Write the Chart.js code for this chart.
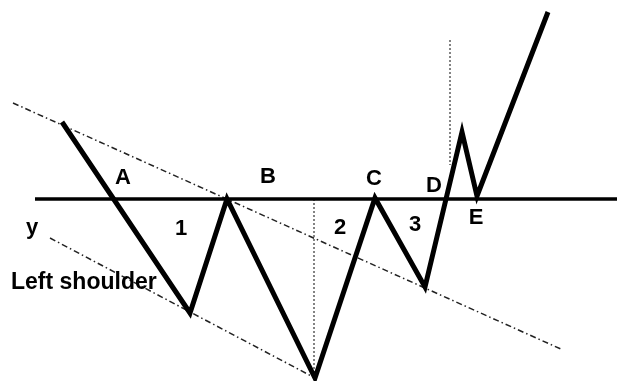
<!DOCTYPE html>
<html>
<head>
<meta charset="utf-8">
<script src="https://cdn.jsdelivr.net/npm/chart.js@4.4.1/dist/chart.umd.min.js"></script>
<style>
  html, body { margin: 0; padding: 0; background: #ffffff; }
  #wrap { width: 617px; height: 381px; }
</style>
</head>
<body>
<div id="wrap"><canvas id="c" width="617" height="381"></canvas></div>
<script>
// ---- data (time units on x, price units on y) ----
const priceX = [62, 190, 227, 315, 375, 425, 462, 477, 548];
const priceY = [259, 68, 182, 3, 183, 94, 249, 185, 369];

const necklineX = [35, 617];
const necklineY = [182, 182];

const upperTrendX = [13, 563];
const upperTrendY = [278, 31];

const lowerTrendX = [50, 315];
const lowerTrendY = [143, 3];

const headDropX = [314, 314];
const headDropY = [182, 2];

const targetX = [450, 450];
const targetY = [341, 216];

const labelText = ['A', 'B', 'C', 'D', 'E', '1', '2', '3', 'y', 'Left shoulder'];
const labelX = [123, 268, 374, 434, 476, 181, 340, 415, 32, 11];
const labelY = [203, 204, 202, 195, 163, 152, 153, 156, 153, 98];

function pts(xs, ys) { return xs.map((x, i) => ({ x: x, y: ys[i] })); }

const labelPlugin = {
  id: 'labels',
  afterDatasetsDraw(chart) {
    const ctx = chart.ctx;
    const xs = chart.scales.x, ys = chart.scales.y;
    ctx.save();
    ctx.fillStyle = '#000';
    ctx.textBaseline = 'middle';
    labelText.forEach((t, i) => {
      const px = xs.getPixelForValue(labelX[i]);
      const py = ys.getPixelForValue(labelY[i]);
      if (t.length > 1) {
        ctx.font = 'bold 23px "Liberation Sans", Arial, sans-serif';
        ctx.textAlign = 'left';
      } else {
        ctx.font = 'bold 22px "Liberation Sans", Arial, sans-serif';
        ctx.textAlign = 'center';
      }
      ctx.fillText(t, px, py);
    });
    ctx.restore();
  }
};

const common = { showLine: true, pointRadius: 0, pointHoverRadius: 0, fill: false, tension: 0 };

new Chart(document.getElementById('c'), {
  type: 'scatter',
  data: {
    datasets: [
      Object.assign({}, common, { label: 'Price', data: pts(priceX, priceY), borderColor: '#000', borderWidth: 5, borderJoinStyle: 'miter', order: 0 }),
      Object.assign({}, common, { label: 'Neckline', data: pts(necklineX, necklineY), borderColor: '#000', borderWidth: 3.5, order: 1 }),
      Object.assign({}, common, { label: 'Upper trend', data: pts(upperTrendX, upperTrendY), borderColor: '#222', borderWidth: 1.5, borderDash: [6, 3, 1.5, 3], order: 2 }),
      Object.assign({}, common, { label: 'Lower trend', data: pts(lowerTrendX, lowerTrendY), borderColor: '#222', borderWidth: 1.5, borderDash: [6, 3, 1.5, 3], order: 2 }),
      Object.assign({}, common, { label: 'Head depth', data: pts(headDropX, headDropY), borderColor: '#333', borderWidth: 1.2, borderDash: [2, 2], order: 2 }),
      Object.assign({}, common, { label: 'Target', data: pts(targetX, targetY), borderColor: '#333', borderWidth: 1.2, borderDash: [2, 2], order: 2 })
    ]
  },
  options: {
    responsive: false,
    animation: false,
    events: [],
    layout: { padding: 0 },
    plugins: { legend: { display: false }, tooltip: { enabled: false } },
    scales: {
      x: { type: 'linear', min: 0, max: 617, display: false },
      y: { type: 'linear', min: 0, max: 381, display: false }
    }
  },
  plugins: [labelPlugin]
});
</script>
</body>
</html>
